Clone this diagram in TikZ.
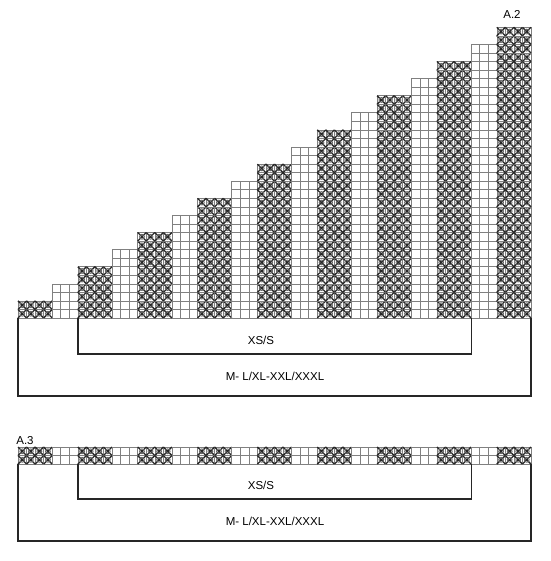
\documentclass[tikz,border=0pt]{standalone}
\usepackage{fontspec}
\setmainfont{Liberation Sans}
\usetikzlibrary{positioning}

\begin{document}
\begin{tikzpicture}
    [x=1pt,y=-1pt,
    cell/.style={draw=black!50,line width=0.6pt},
    knit/.style={draw=black!85,line width=1.3pt},
    ring/.style={draw=black!60,line width=0.9pt},
    brk/.style={draw=black!85,line width=1.3pt},
    lbl/.style={font=\fontsize{11.5}{13}\selectfont,inner sep=0pt}]

    \useasboundingbox (0,0) rectangle (550,561);
    \def\c{8.55}

    % A.2 chart
    \foreach \i in {0,...,59} {
        \pgfmathtruncatemacro{\m}{mod(\i,7)}
        \pgfmathtruncatemacro{\p}{div(\i,7)}
        \pgfmathtruncatemacro{\h}{\m<4 ? 4*\p+2 : 4*\p+4}
        \pgfmathsetmacro{\x}{18+\i*\c}
        \foreach \j in {1,...,\h} {
            \pgfmathsetmacro{\y}{318-\j*\c}
            \draw[cell] (\x,\y) rectangle ++(\c,\c);
            \ifnum\m<4
                \draw[knit] (\x,\y) -- ++(\c,\c) ++(-\c,0) -- ++(\c,-\c);
                \draw[ring] ({\x+\c/2},{\y+\c/2}) circle[radius=2.4pt];
            \fi
        }
    }

    % A.3 chart
    \foreach \i in {0,...,59} {
        \pgfmathtruncatemacro{\m}{mod(\i,7)}
        \pgfmathsetmacro{\x}{18+\i*\c}
        \foreach \j in {0,1} {
            \pgfmathsetmacro{\y}{447+\j*\c}
            \draw[cell] (\x,\y) rectangle ++(\c,\c);
            \ifnum\m<4
                \draw[knit] (\x,\y) -- ++(\c,\c) ++(-\c,0) -- ++(\c,-\c);
                \draw[ring] ({\x+\c/2},{\y+\c/2}) circle[radius=2.4pt];
            \fi
        }
    }

    % size brackets
    \coordinate (s2a) at (77.85,318);
    \coordinate (s2b) at (77.85,354);
    \coordinate (s2c) at (471.15,354);
    \coordinate (s2d) at (471.15,318);
    \coordinate (m2a) at (18,318);
    \coordinate (m2b) at (18,396);
    \coordinate (m2c) at (531,396);
    \coordinate (m2d) at (531,318);
    \draw[brk] (s2a) -- (s2b) -- (s2c) -- (s2d);
    \draw[brk] (m2a) -- (m2b) -- (m2c) -- (m2d);

    \coordinate (s3a) at (77.85,464.1);
    \coordinate (s3b) at (77.85,499);
    \coordinate (s3c) at (471.15,499);
    \coordinate (s3d) at (471.15,464.1);
    \coordinate (m3a) at (18,464.1);
    \coordinate (m3b) at (18,541);
    \coordinate (m3c) at (531,541);
    \coordinate (m3d) at (531,464.1);
    \draw[brk] (s3a) -- (s3b) -- (s3c) -- (s3d);
    \draw[brk] (m3a) -- (m3b) -- (m3c) -- (m3d);

    % labels
    \node[lbl] (a2) at (512,14) {A.2};
    \node[lbl] (xs2) at (261,340) {XS/S};
    \node[lbl] (ml2) at (275,376) {M- L/XL-XXL/XXXL};
    \node[lbl] (a3) at (25,441) {A.3};
    \node[lbl] (xs3) at (261,485) {XS/S};
    \node[lbl] (ml3) at (275,521) {M- L/XL-XXL/XXXL};
\end{tikzpicture}
\end{document}
